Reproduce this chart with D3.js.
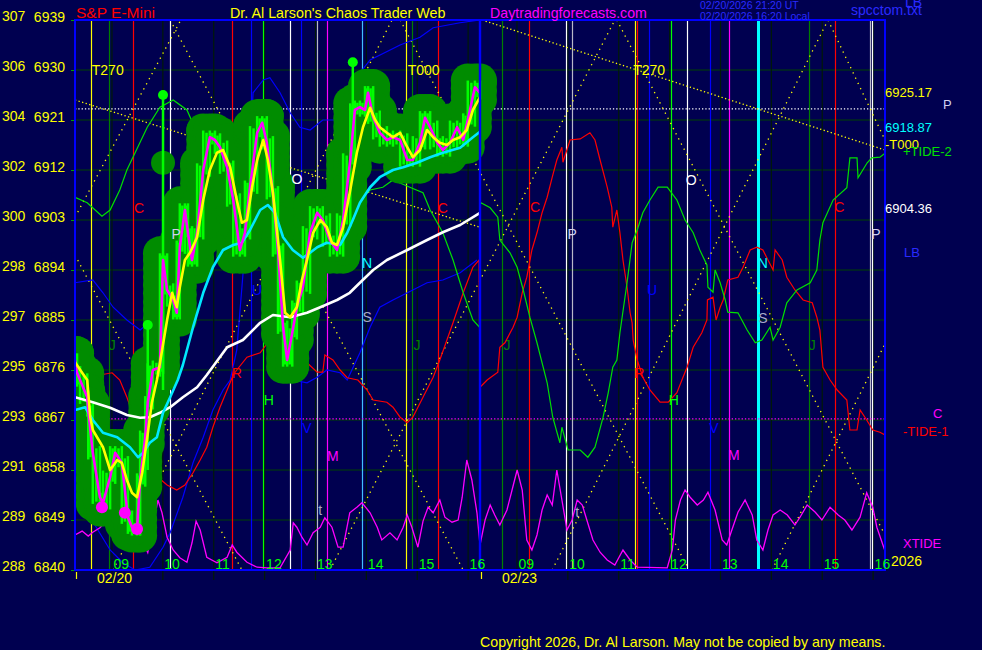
<!DOCTYPE html>
<html><head><meta charset="utf-8">
<script src="https://cdn.jsdelivr.net/npm/d3@7"></script>
<style>body{margin:0;background:#000050}svg{display:block}</style>
</head><body><svg id="c" width="982" height="650"></svg>
<script>
// ---------- DATA ----------
const SESSION = 7.96;            // hours per session shown (08:17 - 16:15)
const OPEN = 8 + 17 / 60;        // session open hour
const priceTicks = [6840,6849,6858,6867,6876,6885,6894,6903,6912,6921,6930,6939];
const cashTicks = [288,289,291,293,295,297,298,300,302,304,306,307];
const hourLabels = ["09","10","11","12","13","14","15","16"];
const dayLabels = ["02/20","02/23"];

// price (magenta) [session hour, price]
const price = [[0,6877.8],[0.04,6875.5],[0.10,6874.2],[0.24,6871.1],[0.26,6868.8],[0.35,6861.1],[0.49,6853.1],[0.55,6852.1],[0.69,6856.7],[0.79,6861.1],[0.92,6859.3],[1.04,6849.5],[1.12,6847.7],[1.22,6847.4],[1.28,6856.2],[1.38,6863.9],[1.43,6870.1],[1.53,6876.0],[1.67,6876.5],[1.73,6895.8],[1.81,6890.4],[1.93,6888.6],[2.00,6886.3],[2.06,6898.1],[2.16,6904.8],[2.22,6900.7],[2.30,6895.8],[2.40,6900.7],[2.52,6912.0],[2.65,6917.9],[2.75,6917.4],[2.85,6916.1],[2.99,6912.5],[3.11,6906.6],[3.24,6897.6],[3.34,6900.7],[3.44,6908.9],[3.58,6918.7],[3.68,6920.5],[3.77,6916.9],[3.89,6907.9],[3.99,6897.6],[4.09,6883.7],[4.17,6877.8],[4.27,6882.7],[4.36,6887.3],[4.48,6890.9],[4.62,6900.7],[4.76,6904.3],[4.87,6903.0],[5.01,6899.4],[5.15,6897.6],[5.27,6903.0],[5.41,6913.8],[5.50,6922.8],[5.60,6923.3],[5.70,6922.8],[5.76,6925.9],[5.86,6921.5],[5.99,6918.7],[6.13,6917.4],[6.25,6917.9],[6.39,6917.4],[6.53,6913.8],[6.64,6913.8],[6.78,6916.9],[6.88,6921.4],[6.98,6919.7],[7.12,6916.9],[7.23,6915.6],[7.37,6916.9],[7.51,6919.7],[7.63,6917.4],[7.72,6921.0],[7.86,6926.9],[7.96,6925.9]];
// smoothed price (yellow)
const smooth = [[0,6877.4],[0.14,6875.5],[0.24,6874.2],[0.30,6867.5],[0.35,6865.2],[0.55,6862.1],[0.69,6858.0],[0.83,6859.8],[0.92,6859.3],[1.02,6856.2],[1.12,6853.9],[1.22,6853.1],[1.32,6857.5],[1.42,6863.9],[1.51,6870.1],[1.61,6874.2],[1.67,6877.3],[1.81,6885.0],[1.91,6889.9],[2.00,6887.3],[2.06,6890.9],[2.16,6895.8],[2.26,6897.1],[2.40,6899.9],[2.52,6906.6],[2.65,6912.0],[2.79,6915.1],[2.91,6915.6],[3.05,6912.5],[3.18,6906.6],[3.28,6902.5],[3.38,6903.0],[3.48,6908.9],[3.58,6913.8],[3.70,6917.4],[3.79,6913.8],[3.89,6907.9],[4.03,6895.8],[4.13,6886.3],[4.23,6885.5],[4.36,6887.3],[4.46,6892.2],[4.56,6895.8],[4.68,6900.7],[4.82,6903.0],[4.95,6901.7],[5.05,6898.9],[5.15,6898.5],[5.27,6901.7],[5.40,6907.9],[5.54,6915.1],[5.66,6919.7],[5.80,6923.2],[5.90,6921.0],[5.99,6919.7],[6.13,6918.7],[6.25,6917.9],[6.39,6918.7],[6.53,6916.1],[6.64,6914.3],[6.78,6915.6],[6.92,6919.2],[7.04,6917.9],[7.17,6916.9],[7.31,6916.5],[7.43,6917.4],[7.57,6917.9],[7.70,6919.2],[7.82,6922.8],[7.96,6925.1]];
// cyan average
const avgFast = [[0,6868.8],[0.20,6869.3],[0.35,6867.0],[0.55,6864.7],[0.83,6863.9],[1.08,6862.1],[1.24,6860.3],[1.34,6861.1],[1.47,6862.9],[1.61,6863.9],[1.73,6868.3],[1.87,6871.1],[2.02,6874.2],[2.12,6876.9],[2.32,6883.7],[2.52,6889.9],[2.71,6894.5],[2.91,6897.6],[3.11,6898.5],[3.28,6898.9],[3.44,6901.2],[3.64,6904.8],[3.79,6905.7],[3.93,6904.3],[4.09,6899.9],[4.28,6897.6],[4.48,6896.2],[4.62,6897.1],[4.76,6898.1],[4.95,6898.9],[5.21,6898.5],[5.35,6900.7],[5.46,6903.0],[5.60,6906.1],[5.80,6908.9],[5.99,6910.7],[6.25,6912.0],[6.45,6912.5],[6.72,6913.3],[6.98,6914.3],[7.23,6915.1],[7.57,6916.0],[7.82,6917.9],[7.96,6918.9]];
// white average
const avgSlow = [[0,6871.1],[0.35,6870.2],[0.69,6869.2],[1.02,6867.9],[1.28,6867.4],[1.47,6867.5],[1.67,6868.3],[1.87,6869.3],[2.12,6871.1],[2.40,6872.9],[2.59,6875.1],[2.99,6880.1],[3.30,6881.4],[3.64,6884.5],[3.89,6885.9],[4.23,6885.5],[4.56,6886.3],[4.82,6887.3],[5.15,6888.6],[5.40,6889.9],[5.60,6891.7],[5.86,6894.0],[6.13,6895.8],[6.53,6897.6],[6.92,6899.4],[7.23,6900.8],[7.57,6902.1],[7.96,6904.3]];
// +TIDE-2 (green)
const tide2 = [[0,6907.1],[0.24,6906.1],[0.53,6903.7],[0.69,6904.8],[0.88,6908.4],[1.02,6912.0],[1.42,6919.7],[1.67,6923.3],[1.93,6924.6],[2.20,6922.8],[2.40,6918.7],[2.65,6913.8],[2.91,6908.9],[3.14,6904.8],[3.38,6901.7],[3.64,6900.7],[3.89,6898.1],[4.23,6899.4],[4.42,6900.7],[4.76,6901.7],[5.15,6903.0],[5.40,6904.8],[5.60,6906.6],[5.80,6908.4],[6.05,6908.9],[6.25,6910.2],[6.58,6908.9],[6.84,6907.9],[6.98,6904.8],[7.23,6900.7],[7.43,6895.8],[7.63,6889.9],[7.82,6885.0],[7.95,6883.7],
 [7.96,6906.2],[8.16,6905.2],[8.31,6903.5],[8.35,6899.4],[8.55,6897.1],[8.69,6894.5],[8.81,6890.4],[8.94,6885.5],[9.08,6880.9],[9.28,6873.7],[9.39,6867.5],[9.53,6862.9],[9.57,6865.7],[9.69,6861.6],[9.93,6861.6],[10.08,6860.3],[10.22,6862.1],[10.38,6867.5],[10.48,6871.9],[10.57,6876.5],[10.65,6877.8],[10.71,6882.7],[10.85,6891.7],[10.95,6898.9],[11.05,6901.2],[11.16,6904.3],[11.30,6906.6],[11.46,6908.9],[11.64,6908.9],[11.83,6906.6],[11.99,6903.0],[12.15,6900.7],[12.28,6897.6],[12.42,6894.9],[12.44,6890.9],[12.54,6890.0],[12.58,6894.0],[12.68,6891.7],[12.78,6888.6],[12.83,6886.4],[13.03,6886.3],[13.21,6883.2],[13.37,6880.9],[13.50,6881.4],[13.66,6883.7],[13.72,6881.4],[13.86,6883.7],[13.99,6888.1],[14.19,6890.4],[14.45,6891.7],[14.58,6894.0],[14.64,6899.4],[14.70,6902.5],[14.90,6906.6],[15.17,6908.8],[15.23,6914.2],[15.37,6914.2],[15.39,6910.6],[15.57,6913.3],[15.66,6914.2],[15.82,6914.3],[15.92,6915.0]];
// -TIDE-1 (red)
const tide1 = [[0,6872.4],[0.24,6873.7],[0.49,6875.1],[0.73,6875.5],[0.88,6874.2],[1.02,6871.1],[1.18,6867.0],[1.34,6862.9],[1.47,6858.5],[1.63,6856.7],[1.81,6855.3],[2.00,6854.4],[2.16,6855.3],[2.32,6857.5],[2.46,6859.8],[2.59,6862.1],[2.71,6865.7],[2.85,6869.3],[2.99,6872.4],[3.11,6875.1],[3.18,6876.0],[3.38,6878.3],[3.64,6879.1],[3.83,6881.4],[4.03,6880.9],[4.23,6879.1],[4.42,6878.7],[4.56,6877.3],[4.76,6875.6],[4.87,6875.6],[4.91,6878.7],[5.07,6877.8],[5.21,6876.0],[5.35,6874.6],[5.56,6874.2],[5.74,6872.4],[5.86,6870.6],[6.13,6870.2],[6.25,6869.3],[6.39,6867.5],[6.53,6866.5],[6.64,6867.5],[6.84,6871.1],[7.04,6874.7],[7.17,6877.8],[7.43,6884.5],[7.63,6889.9],[7.82,6894.5],[7.94,6895.8],
 [7.96,6872.9],[8.10,6874.2],[8.31,6875.6],[8.35,6880.1],[8.45,6880.9],[8.61,6883.7],[8.69,6885.5],[8.79,6889.9],[8.88,6892.7],[8.98,6897.6],[9.08,6900.7],[9.18,6904.3],[9.28,6907.1],[9.38,6910.7],[9.47,6913.8],[9.57,6916.1],[9.59,6913.4],[9.73,6917.4],[9.93,6917.6],[10.12,6918.7],[10.22,6917.4],[10.32,6913.8],[10.46,6908.9],[10.55,6905.3],[10.57,6901.7],[10.65,6904.8],[10.71,6900.7],[10.77,6895.8],[10.85,6890.9],[10.91,6886.3],[10.95,6884.5],[10.97,6881.4],[11.05,6877.8],[11.16,6874.7],[11.30,6872.4],[11.50,6870.2],[11.66,6870.2],[11.83,6871.9],[11.95,6874.7],[12.03,6876.5],[12.15,6880.1],[12.32,6882.7],[12.42,6885.0],[12.43,6888.6],[12.54,6889.1],[12.60,6885.0],[12.68,6887.3],[12.74,6888.6],[12.83,6892.2],[13.03,6892.7],[13.13,6894.5],[13.27,6897.6],[13.40,6898.1],[13.52,6897.6],[13.72,6894.0],[13.76,6897.6],[13.90,6895.8],[13.99,6892.7],[14.15,6890.4],[14.31,6888.6],[14.49,6888.1],[14.58,6885.5],[14.64,6883.2],[14.70,6876.5],[14.84,6874.2],[14.98,6872.4],[15.17,6870.6],[15.23,6865.2],[15.37,6865.2],[15.43,6868.8],[15.56,6867.0],[15.68,6865.2],[15.82,6864.8],[15.92,6864.3]];
// XTIDE (magenta, bottom)
const xtide = [[0,6846.3],[0.14,6847.0],[0.26,6846.1],[0.35,6846.8],[0.49,6847.6],[0.59,6848.6],[0.69,6847.7],[0.83,6846.7],[0.92,6847.6],[1.04,6845.8],[1.14,6844.9],[1.24,6845.9],[1.34,6844.9],[1.43,6843.1],[1.53,6847.7],[1.63,6852.6],[1.71,6850.3],[1.81,6845.9],[1.93,6843.6],[2.06,6842.2],[2.20,6841.4],[2.30,6844.9],[2.38,6848.8],[2.46,6847.2],[2.59,6842.3],[2.79,6841.3],[2.99,6842.3],[3.09,6844.5],[3.18,6843.2],[3.38,6841.4],[3.58,6840.5],[3.77,6840.4],[4.03,6840.4],[4.23,6843.6],[4.29,6848.5],[4.36,6847.7],[4.46,6845.9],[4.56,6844.5],[4.68,6846.7],[4.82,6847.7],[4.91,6849.4],[5.05,6847.7],[5.17,6844.1],[5.27,6844.1],[5.40,6850.3],[5.54,6851.3],[5.64,6852.1],[5.80,6850.3],[5.94,6847.7],[6.03,6845.4],[6.19,6846.7],[6.33,6845.4],[6.45,6847.7],[6.53,6849.9],[6.62,6847.7],[6.74,6844.1],[6.84,6848.8],[6.94,6851.3],[7.04,6850.3],[7.17,6852.6],[7.27,6849.5],[7.41,6848.6],[7.53,6849.0],[7.61,6853.1],[7.70,6859.8],[7.80,6856.2],[7.90,6850.3],
 [7.96,6844.5],[8.06,6849.0],[8.16,6851.7],[8.25,6849.9],[8.35,6848.1],[8.49,6850.8],[8.59,6854.4],[8.69,6858.0],[8.79,6854.4],[8.88,6845.4],[8.98,6843.6],[9.08,6846.3],[9.18,6850.8],[9.28,6853.5],[9.38,6851.7],[9.47,6858.0],[9.57,6852.6],[9.67,6847.2],[9.77,6849.0],[9.87,6852.6],[9.97,6851.7],[10.06,6849.0],[10.18,6845.4],[10.32,6843.2],[10.46,6841.8],[10.61,6840.9],[10.77,6843.6],[10.91,6841.8],[11.05,6840.5],[11.64,6840.4],[11.74,6843.6],[11.80,6849.0],[11.90,6852.6],[11.99,6854.4],[12.09,6853.1],[12.23,6851.7],[12.35,6852.6],[12.44,6854.0],[12.58,6850.8],[12.72,6845.4],[12.81,6844.5],[12.91,6847.2],[13.03,6850.4],[13.17,6852.6],[13.31,6849.9],[13.40,6845.4],[13.52,6843.6],[13.62,6847.2],[13.72,6849.9],[13.86,6850.8],[14.00,6849.9],[14.15,6848.1],[14.25,6849.5],[14.39,6851.7],[14.55,6850.4],[14.68,6849.0],[14.84,6851.3],[15.00,6849.9],[15.13,6849.0],[15.27,6847.2],[15.43,6849.5],[15.56,6853.9],[15.68,6851.3],[15.76,6847.7],[15.92,6843.4]];
// LB lines (blue)
const lbA = [[0,6891.7],[0.35,6892.2],[0.55,6889.9],[0.75,6887.3],[1.02,6885.0],[1.28,6883.2],[1.47,6884.6],[1.77,6885.7]];
const lbB = [[0,6853.5],[0.20,6850.8],[0.39,6848.1],[0.69,6843.6],[0.94,6841.3],[1.18,6840.0],[1.47,6840.5],[1.73,6844.1],[1.87,6846.7],[2.12,6853.1],[2.32,6859.3],[2.52,6863.9],[2.71,6868.8],[2.91,6872.4],[3.05,6874.2],[3.18,6879.6],[3.34,6897.6],[3.44,6915.6],[3.50,6925.9],[3.70,6928.2],[3.83,6928.6],[4.03,6925.9],[4.23,6922.3],[4.42,6919.7],[4.62,6919.2],[4.87,6921.0],[5.15,6921.0],[5.35,6921.5],[5.60,6929.5],[5.80,6931.8],[6.39,6934.5],[6.78,6935.9],[7.04,6937.6],[7.57,6938.5],[7.96,6939.0]];
const lbC = [[4.09,6875.6],[4.28,6874.2],[4.56,6873.7],[4.76,6874.7],[4.95,6876.0],[5.21,6875.5],[5.35,6874.2],[5.60,6879.1],[5.80,6883.7],[5.99,6887.3],[6.25,6888.6],[6.64,6890.4],[6.92,6891.7],[7.23,6892.2],[7.57,6893.5],[7.90,6895.8]];
// timing lines [session hour, kind]
const timeLines = [[0.31,"yellow"],[0.67,"dkgreen"],[1.14,"red"],[1.87,"white"],[3.09,"red"],[3.46,"blue"],[3.69,"green"],[4.23,"white"],[4.44,"blue"],[4.76,"grey"],[4.95,"magenta"],[5.64,"ltblue"],[6.51,"yellow"],[6.62,"dkgreen"],[7.13,"red"],
 [8.39,"dkgreen"],[8.92,"red"],[9.65,"white"],[9.77,"grey"],[11.00,"yellow"],[11.04,"red"],[11.28,"blue"],[11.71,"green"],[12.02,"white"],[12.49,"blue"],[12.86,"magenta"],[13.43,"cyan"],[14.43,"dkgreen"],[14.94,"red"],[15.63,"grey"],[15.67,"white"]];
// trend lines (yellow dotted) [[t1,p1],[t2,p2]]
const trendLines = [[[0,6924.6],[7.96,6901.7]],[[8.00,6939.0],[15.92,6915.6]]];
const angleLines = [[[0,6903.5],[2.08,6939]],[[0,6896.7],[3.28,6840]],[[1.87,6939],[7.63,6840]],[[0.75,6840],[6.23,6939]],[[5.01,6840],[10.61,6939]],[[6.39,6939],[12.07,6840]],[[9.38,6840],[14.80,6939]],[[10.65,6939],[15.92,6846.3]],[[14.80,6939],[15.92,6917.4]],[[13.70,6840],[15.92,6880.7]]];
const whiteLevel = 6923.0, magentaLevel = 6867.2;
// EF markers [t, top, bottom]
const pins = [[1.73,6925.5,6872.4],[1.43,6884.1,6858.0],[5.46,6931.4,6921.9]];
const pinBlobs = [[1.73,6913.3]];
const lows = [[0.53,6851.3],[0.98,6850.3],[1.22,6847.4]];
const turnLabels = [["T270",0.33],["T000",6.54],["T270",10.97]];
const letters = [["C",1.26,6905.2],["P",1.99,6900.5],["O",4.36,6910.4],["C",7.23,6905.2],["N",5.74,6895.3],["S",5.74,6885.5],["J",0.73,6880.5],["J",6.72,6880.5],["R",3.18,6875.5],["U",3.58,6890.4],["H",3.81,6870.6],["V",4.56,6865.6],["M",5.07,6860.5],["t",4.82,6850.8],
 ["C",9.04,6905.3],["P",9.77,6900.5],["O",12.11,6910.2],["C",15.02,6905.3],["P",15.74,6900.5],["U",11.34,6890.4],["N",13.52,6895.3],["S",13.52,6885.4],["J",8.49,6880.5],["J",14.49,6880.5],["R",11.09,6875.5],["H",11.77,6870.6],["V",12.56,6865.6],["M",12.95,6860.7],["t",9.87,6850.4]];
const lastClose = 6925.17, lastFast = 6918.87, lastSlow = 6904.36;

// ---------- STYLE ----------
const FONT = '"Liberation Sans", Arial, sans-serif';
const BG = "#000050";
const C = {yellow:"#ffff00",dkgreen:"#008000",red:"#ff0000",white:"#ffffff",blue:"#0000ff",green:"#00ff00",grey:"#b8b8c8",magenta:"#ff00ff",ltblue:"#40c0ff",cyan:"#00ffff"};
const letterColor = {C:"#ff0000",P:"#d0d0f0",O:"#ffffff",N:"#00ffff",S:"#a8a8c8",J:"#008000",R:"#ff0000",U:"#0000ff",H:"#00ff00",V:"#0000ff",M:"#ff00ff",t:"#a8a8c8"};

// ---------- DRAW ----------
const svg = d3.select("#c");
const x = d3.scaleLinear().domain([0, 2 * SESSION]).range([75, 885]);
const y = d3.scaleLinear().domain([priceTicks[0], priceTicks[priceTicks.length - 1]]).range([570, 20]);
const line = d3.line().x(d => x(d[0])).y(d => y(d[1]));

svg.append("rect").attr("width", 982).attr("height", 650).attr("fill", BG);
svg.append("clipPath").attr("id", "pc").append("rect").attr("x", 75).attr("y", 20).attr("width", 810).attr("height", 550);

// horizontal grid
svg.append("g").selectAll("line").data(priceTicks.slice(0, -1)).join("line")
  .attr("x1", 75).attr("x2", 885).attr("y1", d => y(d)).attr("y2", d => y(d))
  .attr("stroke", "#004200").attr("stroke-width", 1.2);

// y axis
const gy = svg.append("g").attr("transform", "translate(75,0)")
  .call(d3.axisLeft(y).tickValues(priceTicks).tickSize(4).tickPadding(6).tickFormat(d3.format("d")));
gy.select(".domain").remove();
gy.attr("font-family", FONT).attr("font-size", 14);
gy.selectAll("line").attr("stroke", "#00a000");
gy.selectAll("text").attr("fill", C.yellow).attr("dy", "0.08em");
svg.append("g").selectAll("text").data(priceTicks).join("text")
  .attr("x", 2).attr("y", d => y(d) + 1).text((d, i) => cashTicks[i])
  .attr("fill", C.yellow).attr("font-family", FONT).attr("font-size", 14);

// hour grid via axis
const hourTicks = [];
[0, 1].forEach(d => { for (let h = 9; h <= 16; h++) hourTicks.push(d * SESSION + h - OPEN); });
const gx = svg.append("g").attr("transform", "translate(0,20)")
  .call(d3.axisBottom(x).tickValues(hourTicks).tickSize(560).tickFormat(""));
gx.select(".domain").remove();
gx.selectAll("text").remove();
gx.selectAll("line").attr("stroke", "#001a08").attr("stroke-width", 1.2);

const plot = svg.append("g").attr("clip-path", "url(#pc)");

// timing lines
plot.append("g").selectAll("line").data(timeLines).join("line")
  .attr("x1", d => Math.round(x(d[0])) + 0.5).attr("x2", d => Math.round(x(d[0])) + 0.5)
  .attr("y1", 20).attr("y2", 570).attr("stroke", d => C[d[1]])
  .attr("stroke-width", d => d[1] === "cyan" ? 3 : 1.2);

// dotted levels
plot.append("line").attr("x1", 75).attr("x2", 885).attr("y1", y(whiteLevel)).attr("y2", y(whiteLevel))
  .attr("stroke", "#ffffff").attr("stroke-dasharray", "1.3,2").attr("stroke-width", 1.2);
plot.append("line").attr("x1", 75).attr("x2", 885).attr("y1", y(magentaLevel)).attr("y2", y(magentaLevel))
  .attr("stroke", "#ff00ff").attr("stroke-dasharray", "1.3,2").attr("stroke-width", 1.2);

// angle and trend lines
plot.append("g").selectAll("path").data(angleLines).join("path").attr("d", line)
  .attr("fill", "none").attr("stroke", C.yellow).attr("stroke-width", 1.3).attr("stroke-dasharray", "1.3,4.5");
plot.append("g").selectAll("path").data(trendLines).join("path").attr("d", line)
  .attr("fill", "none").attr("stroke", C.yellow).attr("stroke-width", 1.3).attr("stroke-dasharray", "1.3,2.4");

// tide lines
const thin = (data, col, w) => plot.append("path").datum(data).attr("d", line)
  .attr("fill", "none").attr("stroke", col).attr("stroke-width", w);
thin(lbA, "#0000ff", 1.2); thin(lbB, "#0000ff", 1.2); thin(lbC, "#0000ff", 1.2);
thin(tide1, "#ff0000", 1.2);
thin(tide2, "#00e000", 1.2);
thin(xtide, "#ff00ff", 1.3);

// blobs and bars derived from price
const bars = price.map((d, i) => {
  const nb = price.slice(Math.max(0, i - 1), i + 2).map(e => e[1]);
  return [d[0], d3.min(nb) - 1.2, d3.max(nb) + 1.2];
});
const blobPts = [];
bars.forEach(b => { for (let v = b[1]; v <= b[2] + 0.01; v += 1.5) blobPts.push([b[0], v]); blobPts.push([b[0], b[2]]); });
price.forEach((d, i) => { if (i > 0) { const p = price[i - 1]; blobPts.push([(d[0] + p[0]) / 2, (d[1] + p[1]) / 2]); } });
plot.append("g").selectAll("circle").data(blobPts).join("circle")
  .attr("cx", d => x(d[0])).attr("cy", d => y(d[1])).attr("r", 17).attr("fill", "#008c00");
plot.append("g").selectAll("circle").data(pinBlobs).join("circle")
  .attr("cx", d => x(d[0])).attr("cy", d => y(d[1])).attr("r", 12).attr("fill", "#008c00");
const midBars = price.slice(1).map((d, i) => [(d[0] + price[i][0]) / 2, Math.min(d[1], price[i][1]) - 0.8, Math.max(d[1], price[i][1]) + 0.8]);
plot.append("g").selectAll("line").data(bars.concat(midBars)).join("line")
  .attr("x1", d => x(d[0])).attr("x2", d => x(d[0])).attr("y1", d => y(d[1])).attr("y2", d => y(d[2]))
  .attr("stroke", "#00ff00").attr("stroke-width", 2.5);

// pins
plot.append("g").selectAll("line").data(pins).join("line")
  .attr("x1", d => x(d[0])).attr("x2", d => x(d[0])).attr("y1", d => y(d[1])).attr("y2", d => y(d[2]))
  .attr("stroke", "#00ff00").attr("stroke-width", 2.5);
plot.append("g").selectAll("circle").data(pins).join("circle")
  .attr("cx", d => x(d[0])).attr("cy", d => y(d[1])).attr("r", 5).attr("fill", "#00ff00");

// averages and price
const thick = (data, col) => plot.append("path").datum(data).attr("d", line)
  .attr("fill", "none").attr("stroke", col).attr("stroke-width", 2.6).attr("stroke-linejoin", "round");
thick(avgSlow, "#ffffff");
thick(avgFast, "#00e8ff");
thick(price, "#ff00ff");
thick(smooth, "#ffff00");
plot.append("g").selectAll("circle").data(lows).join("circle")
  .attr("cx", d => x(d[0])).attr("cy", d => y(d[1])).attr("r", 6).attr("fill", "#ff00ff");

// letters
svg.append("g").selectAll("text").data(letters).join("text")
  .attr("x", d => x(d[1])).attr("y", d => y(d[2]) + 5).attr("text-anchor", "middle")
  .attr("fill", d => letterColor[d[0]]).attr("font-family", FONT).attr("font-size", 14).text(d => d[0]);
svg.append("g").selectAll("text").data(turnLabels).join("text")
  .attr("x", d => x(d[1])).attr("y", y(6930) + 5).attr("fill", C.yellow)
  .attr("font-family", FONT).attr("font-size", 14).text(d => d[0]);

// frame
svg.append("rect").attr("x", 75).attr("y", 20).attr("width", 810).attr("height", 550)
  .attr("fill", "none").attr("stroke", "#0000ff").attr("stroke-width", 2);
svg.append("line").attr("x1", x(SESSION)).attr("x2", x(SESSION)).attr("y1", 20).attr("y2", 571)
  .attr("stroke", "#0000ff").attr("stroke-width", 2.4);

// hour labels & date labels
svg.append("g").selectAll("text").data(hourTicks).join("text")
  .attr("x", d => x(d) + 2).attr("y", 569).attr("fill", "#00ff00")
  .attr("font-family", FONT).attr("font-size", 14).text((d, i) => hourLabels[i % 8]);
svg.append("g").selectAll("line").data([0, SESSION]).join("line")
  .attr("x1", d => x(d) + 1.5).attr("x2", d => x(d) + 1.5).attr("y1", 572).attr("y2", 579)
  .attr("stroke", C.yellow).attr("stroke-width", 1.2);
svg.append("g").selectAll("text").data(dayLabels).join("text")
  .attr("x", (d, i) => x(i * SESSION) + 22).attr("y", 583).attr("fill", C.yellow)
  .attr("font-family", FONT).attr("font-size", 14).text(d => d);

// header
const txt = (s, xx, yy, col, size) => svg.append("text").attr("x", xx).attr("y", yy).attr("fill", col)
  .attr("font-family", FONT).attr("font-size", size).text(s);
txt("S&P E-Mini", 76, 18, "#ff0000", 15.5);
txt("Dr. Al Larson's Chaos Trader Web", 230, 18, C.yellow, 14.3);
txt("Daytradingforecasts.com", 490, 18, "#ff00ff", 14.2);
txt("02/20/2026 21:20 UT", 700, 9, "#2a2aff", 10.5);
txt("02/20/2026 16:20 Local", 700, 19.5, "#2a2aff", 10.5);
txt("spcctom.txt", 851, 15, "#2a2aff", 14);
txt("LB", 905, 7, "#2a2aff", 14);

// right labels
txt(lastClose.toFixed(2), 885, y(lastClose) + 0.5, C.yellow, 13);
txt("P", 943, 109, "#d0d0f0", 13);
txt(lastFast.toFixed(2), 885, y(lastFast) + 0.5, "#00ffff", 13);
txt("-T000", 885, 149, C.yellow, 13);
txt("+TIDE-2", 903, 156, "#00e000", 13);
txt(lastSlow.toFixed(2), 885, y(lastSlow) + 0.5, "#ffffff", 13);
txt("LB", 904, 257, "#2a2aff", 13);
txt("C", 933, 418, "#ff00ff", 13);
txt("-TIDE-1", 903, 436, "#ff0000", 13);
txt("XTIDE", 903, 548, "#ff00ff", 13);
txt("2026", 891, 566, C.yellow, 14);
txt("Copyright 2026, Dr. Al Larson. May not be copied by any means.", 480, 647, C.yellow, 14.2);
</script></body></html>
